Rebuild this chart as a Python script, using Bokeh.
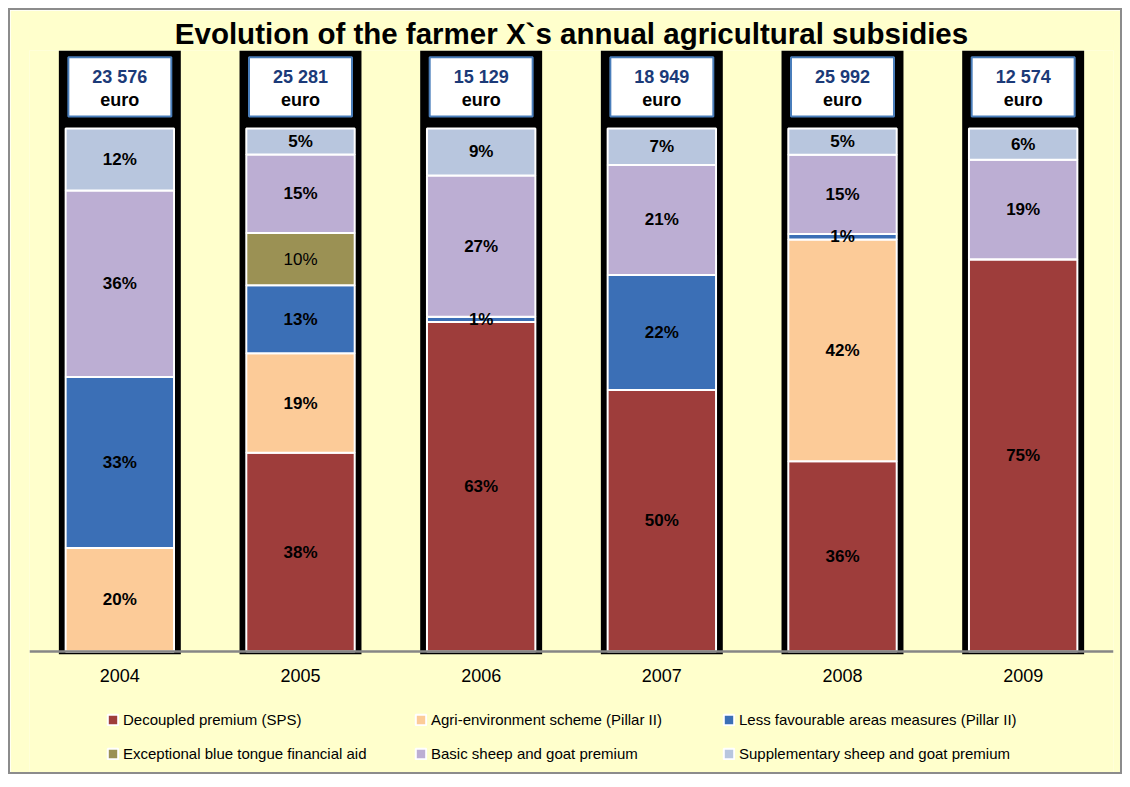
from bokeh.plotting import figure
from bokeh.models import ColumnDataSource, FactorRange, Range1d, Legend, LegendItem, Span
from bokeh.core.properties import value, field
from bokeh.embed import file_html
from bokeh.resources import INLINE

# ---------------- data ----------------
years = ["2004", "2005", "2006", "2007", "2008", "2009"]
totals_eur = [23576, 25281, 15129, 18949, 25992, 12574]

series_names = [
    "Decoupled premium (SPS)",
    "Agri-environment scheme (Pillar II)",
    "Less favourable areas measures (Pillar II)",
    "Exceptional blue tongue financial aid",
    "Basic sheep and goat premium",
    "Supplementary sheep and goat premium",
]
# shares in % as labelled on the chart
sps = [0, 38, 63, 50, 36, 75]
agri_env = [20, 19, 0, 0, 42, 0]
lfa = [33, 13, 1, 22, 1, 0]
blue_tongue = [0, 10, 0, 0, 0, 0]
basic_premium = [36, 15, 27, 21, 15, 19]
supp_premium = [12, 5, 9, 7, 5, 6]

series_values = [sps, agri_env, lfa, blue_tongue, basic_premium, supp_premium]
series_colors = ["#9E3D3B", "#FCCB98", "#3B6FB6", "#9B9154", "#BCAED3", "#B8C6DE"]
keys = ["s0", "s1", "s2", "s3", "s4", "s5"]

# ---------------- layout constants ----------------
Y_TOP = 114.9
Y_BOT = -23.9
BG = "#FFFFCC"
FONT = "Liberation Sans"

# 100 % stacked columns: each year's shares scaled to a full column
year_sums = [sum(vals[i] for vals in series_values) for i in range(len(years))]
data = {"year": years}
for k, vals in zip(keys, series_values):
    data[k] = [v * 100.0 / s for v, s in zip(vals, year_sums)]
src = ColumnDataSource(data)

p = figure(
    x_range=FactorRange(factors=years, range_padding=0, factor_padding=0),
    y_range=Range1d(Y_BOT, Y_TOP),
    width=1114, height=766,
    output_backend="svg", toolbar_location=None,
    x_axis_location=None, y_axis_location=None,
    min_border_left=19, min_border_right=11,
    min_border_top=40, min_border_bottom=0,
    title="Evolution of the farmer X`s annual agricultural subsidies",
)
p.styles = {"border": "2px solid #8C8C8C", "margin-left": "8px", "margin-top": "8px"}
p.background_fill_color = BG
p.border_fill_color = BG
p.outline_line_color = None
p.xgrid.grid_line_color = None
p.ygrid.grid_line_color = None

p.title.align = "center"
p.title.text_font = FONT
p.title.text_font_size = "29.5px"
p.title.text_font_style = "bold"
p.title.text_color = "#000000"
p.title.standoff = 2

# black frames behind each bar + total box
p.vbar(x=years, top=Y_TOP, bottom=-0.55, width=0.675, fill_color="black", line_color=None)

# stacked segments
renderers = p.vbar_stack(keys, x="year", width=0.6, color=series_colors, source=src,
                         line_color="white", line_width=2)

# segment labels
lx, ly, lt, ls = [], [], [], []
for i, yr in enumerate(years):
    base = 0.0
    for si, (k, vals) in enumerate(zip(keys, series_values)):
        h = data[k][i]
        if vals[i] > 0:
            lx.append(yr)
            ly.append(base + h / 2)
            lt.append(f"{vals[i]}%")
            ls.append("normal" if si == 3 else "bold")
        base += h
lab_src = ColumnDataSource(dict(x=lx, y=ly, t=lt, s=ls))
p.text(x="x", y="y", text="t", source=lab_src, text_align="center", text_baseline="middle",
       text_font=value(FONT), text_font_size="17px", text_font_style=field("s"),
       text_color="#000000")

# total boxes
p.rect(x=years, y=107.95, width=0.57, height=11.3, fill_color="white",
       line_color="#4A7EBB", line_width=2)
tot_labels = [f"{t:,}".replace(",", " ") for t in totals_eur]
p.text(x=years, y=[109.9] * len(years), text=tot_labels, text_align="center",
       text_baseline="middle", text_font=value(FONT), text_font_size="18px",
       text_font_style="bold", text_color="#1B3A78")
p.text(x=years, y=[105.4] * len(years), text=["euro"] * len(years), text_align="center",
       text_baseline="middle", text_font=value(FONT), text_font_size="18px",
       text_font_style="bold", text_color="#000000")

# category axis: baseline and year labels
p.add_layout(Span(location=0, dimension="width", line_color="#868686", line_width=2.5))
p.text(x=years, y=[-4.6] * len(years), text=years, text_align="center",
       text_baseline="middle", text_font=value(FONT), text_font_size="18px",
       text_color="#000000")

legend = Legend(
    items=[LegendItem(label=n, renderers=[r]) for n, r in zip(series_names, renderers)],
    location=(77, 13), orientation="horizontal", ncols=3,
    glyph_width=13, glyph_height=13, label_standoff=4, spacing=14,
    label_width=277, label_height=20,
    label_text_font=FONT, label_text_font_size="15px", label_text_color="#000000",
    background_fill_alpha=0, border_line_alpha=0, padding=0, margin=0,
)
p.add_layout(legend)

open("out.html", "w").write(file_html(p, INLINE))
